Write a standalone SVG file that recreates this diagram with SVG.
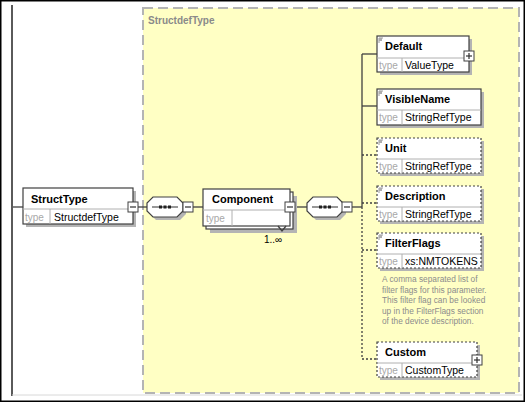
<svg xmlns="http://www.w3.org/2000/svg" width="525" height="402" viewBox="0 0 525 402">
<style>
.box{fill:#fff;stroke:#404040;stroke-width:1.2}
.opt{fill:#fff;stroke:#404040;stroke-width:1.2;stroke-dasharray:2,2}
.shd{fill:#b4b4b4}
.sep{stroke:#b0b0b0;stroke-width:1}
.nm{font-family:"Liberation Sans",Arial,sans-serif;font-weight:bold;font-size:11px;fill:#000}
.tp{font-family:"Liberation Sans",Arial,sans-serif;font-size:10px;fill:#a8a8a8}
.tv{font-family:"Liberation Sans",Arial,sans-serif;font-size:10.5px;fill:#000}
.ann{font-family:"Liberation Sans",Arial,sans-serif;font-size:8.3px;fill:#8c8c8c}
.ln{stroke:#404040;stroke-width:1.3;fill:none}
.dl{stroke:#404040;stroke-width:1.3;fill:none;stroke-dasharray:2,2}
.btn{fill:#fff;stroke:#404040;stroke-width:1}
.comp{fill:#fff;stroke:#404040;stroke-width:1.2}
.ico{stroke:#808080;stroke-width:0.8;fill:none}
</style>
<defs>
<g id="minus"><rect class="btn" x="0" y="0" width="10" height="10"/><line x1="2" y1="5" x2="8" y2="5" stroke="#303030" stroke-width="1.2"/></g>
<g id="plus"><rect class="btn" x="0" y="0" width="10" height="10"/><line x1="2" y1="5" x2="8" y2="5" stroke="#303030" stroke-width="1.2"/><line x1="5" y1="2" x2="5" y2="8" stroke="#303030" stroke-width="1.2"/></g>
<g id="seq">
<path class="shd" d="M9,3 H33 L39,9 V17 L33,23 H9 L3,17 V9 Z"/>
<path class="comp" d="M6,0 H30 L36,6 V14 L30,20 H6 L0,14 V6 Z"/>
<line x1="5" y1="10" x2="31" y2="10" stroke="#303030" stroke-width="1"/>
<rect x="12" y="8.5" width="3" height="3" fill="#202020"/><rect x="16.5" y="8.5" width="3" height="3" fill="#202020"/><rect x="21" y="8.5" width="3" height="3" fill="#202020"/>
</g>
<g id="icon"><path class="ico" d="M0,0 V5 M2,0 V3 M0,0 H4 M0,2 H3"/></g>
</defs>

<rect x="0" y="0" width="525" height="402" fill="#fff"/>
<line x1="12" y1="5" x2="12" y2="396" stroke="#5a5a5a" stroke-width="2"/>
<line x1="12" y1="395" x2="522" y2="395" stroke="#d8d8d8" stroke-width="1"/>

<g id="container">
<rect x="143" y="8" width="376" height="385" fill="#ffffc4" stroke="#b4b4b4" stroke-width="2" stroke-dasharray="10,5"/>
<text x="148" y="24" font-family="Liberation Sans, Arial, sans-serif" font-size="10px" font-weight="bold" fill="#8a8a8a">StructdefType</text>
</g>

<g id="connectors">
<line class="ln" x1="13" y1="207" x2="23" y2="207"/>
<line class="ln" x1="138" y1="207" x2="147" y2="207"/>
<line class="ln" x1="193" y1="207" x2="203" y2="207"/>
<line class="ln" x1="296" y1="207" x2="307" y2="207"/>
<line class="ln" x1="352" y1="207" x2="362" y2="207"/>
<line class="ln" x1="362" y1="54" x2="362" y2="207"/>
<line class="dl" x1="362" y1="207" x2="362" y2="359"/>
<line class="ln" x1="362" y1="54" x2="377" y2="54"/>
<line class="ln" x1="362" y1="106" x2="377" y2="106"/>
<line class="dl" x1="362" y1="155" x2="377" y2="155"/>
<line class="dl" x1="362" y1="203" x2="377" y2="203"/>
<line class="dl" x1="362" y1="250" x2="377" y2="250"/>
<line class="dl" x1="362" y1="359" x2="377" y2="359"/>
</g>

<g id="StructType">
<rect class="shd" x="26" y="191" width="110" height="36"/>
<rect class="box" x="23" y="188" width="110" height="36"/>
<line class="sep" x1="23" y1="209" x2="133" y2="209"/>
<line class="sep" x1="50" y1="209" x2="50" y2="224"/>
<text class="nm" x="31" y="203">StructType</text>
<text class="tp" x="25" y="221">type</text>
<text class="tv" x="54" y="221">StructdefType</text>
<use href="#minus" x="128" y="202"/>
</g>

<g id="seq1"><use href="#seq" x="147" y="197"/><use href="#minus" x="183" y="202"/></g>

<g id="Component">
<rect class="shd" x="210" y="196" width="87" height="37"/>
<rect class="box" x="206" y="192" width="87" height="37"/>
<rect class="box" x="203" y="189" width="87" height="37"/>
<line class="sep" x1="203" y1="210" x2="290" y2="210"/>
<line class="sep" x1="232" y1="210" x2="232" y2="226"/>
<text class="nm" x="212" y="203">Component</text>
<text class="tp" x="206" y="222">type</text>
<use href="#minus" x="285" y="202"/>
<path class="ln" d="M278,226 L282,231 L286,226" stroke-width="1"/>
<text x="264" y="243" font-family="Liberation Sans, Arial, sans-serif" font-size="10px" fill="#000">1..∞</text>
</g>

<g id="seq2"><use href="#seq" x="307" y="197"/><use href="#minus" x="342" y="202"/></g>

<g id="Default">
<rect class="shd" x="380" y="39" width="92" height="36"/>
<rect class="box" x="377" y="36" width="92" height="36"/>
<line class="sep" x1="377" y1="58" x2="469" y2="58"/>
<line class="sep" x1="402" y1="58" x2="402" y2="72"/>
<use href="#icon" x="379" y="38"/>
<text class="nm" x="385" y="50">Default</text>
<text class="tp" x="379" y="69">type</text>
<text class="tv" x="405" y="69">ValueType</text>
<use href="#plus" x="464" y="51"/>
</g>

<g id="VisibleName">
<rect class="shd" x="380" y="92" width="104" height="36"/>
<rect class="box" x="377" y="89" width="104" height="36"/>
<line class="sep" x1="377" y1="110" x2="481" y2="110"/>
<line class="sep" x1="402" y1="110" x2="402" y2="125"/>
<use href="#icon" x="379" y="91"/>
<text class="nm" x="385" y="103">VisibleName</text>
<text class="tp" x="379" y="121">type</text>
<text class="tv" x="405" y="121">StringRefType</text>
</g>

<g id="Unit">
<rect class="shd" x="380" y="141" width="104" height="35"/>
<rect class="opt" x="377" y="138" width="104" height="35"/>
<line class="sep" x1="377" y1="159" x2="481" y2="159"/>
<line class="sep" x1="402" y1="159" x2="402" y2="173"/>
<use href="#icon" x="379" y="140"/>
<text class="nm" x="385" y="152">Unit</text>
<text class="tp" x="379" y="170">type</text>
<text class="tv" x="405" y="170">StringRefType</text>
</g>

<g id="Description">
<rect class="shd" x="380" y="189" width="104" height="35"/>
<rect class="opt" x="377" y="186" width="104" height="35"/>
<line class="sep" x1="377" y1="207" x2="481" y2="207"/>
<line class="sep" x1="402" y1="207" x2="402" y2="221"/>
<use href="#icon" x="379" y="188"/>
<text class="nm" x="385" y="200">Description</text>
<text class="tp" x="379" y="218">type</text>
<text class="tv" x="405" y="218">StringRefType</text>
</g>

<g id="FilterFlags">
<rect class="shd" x="380" y="236" width="104" height="35"/>
<rect class="opt" x="377" y="233" width="104" height="35"/>
<line class="sep" x1="377" y1="254" x2="481" y2="254"/>
<line class="sep" x1="402" y1="254" x2="402" y2="268"/>
<use href="#icon" x="379" y="235"/>
<text class="nm" x="385" y="247">FilterFlags</text>
<text class="tp" x="379" y="265">type</text>
<text class="tv" x="405" y="265">xs:NMTOKENS</text>
<text class="ann" x="382" y="282">A comma separated list of</text>
<text class="ann" x="382" y="292.5">filter flags for this parameter.</text>
<text class="ann" x="382" y="303">This filter flag can be looked</text>
<text class="ann" x="382" y="313.5">up in the FilterFlags section</text>
<text class="ann" x="382" y="324">of the device description.</text>
</g>

<g id="Custom">
<rect class="shd" x="380" y="345" width="100" height="35"/>
<rect class="opt" x="377" y="342" width="100" height="35"/>
<line class="sep" x1="377" y1="363" x2="477" y2="363"/>
<line class="sep" x1="402" y1="363" x2="402" y2="377"/>
<text class="nm" x="385" y="356">Custom</text>
<text class="tp" x="379" y="374">type</text>
<text class="tv" x="405" y="374">CustomType</text>
<use href="#plus" x="472" y="355"/>
</g>

<rect x="0.75" y="0.75" width="523.5" height="400.5" fill="none" stroke="#000" stroke-width="1.5"/>
</svg>
